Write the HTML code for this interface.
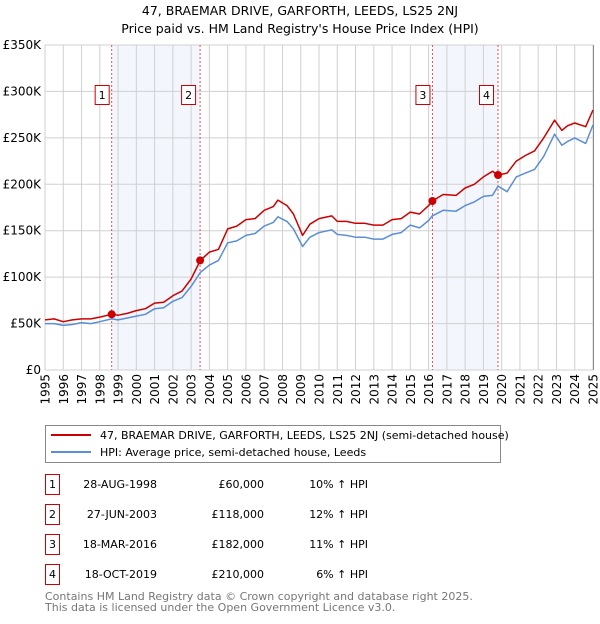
<!DOCTYPE html>
<html><head><meta charset="utf-8"><style>
body{margin:0;background:#fff;font-family:"DejaVu Sans","Liberation Sans",sans-serif;}
</style></head><body>
<svg width="600" height="620" xmlns="http://www.w3.org/2000/svg" font-family="DejaVu Sans, Liberation Sans, sans-serif">
<text x="300" y="15" text-anchor="middle" font-size="12.5">47, BRAEMAR DRIVE, GARFORTH, LEEDS, LS25 2NJ</text>
<text x="300" y="33" text-anchor="middle" font-size="12.5">Price paid vs. HM Land Registry's House Price Index (HPI)</text>
<g id="plot"></g>
<g>
<rect x="45.5" y="425.5" width="455" height="37" fill="#fff" stroke="#888"/>
<line x1="51" y1="435" x2="91" y2="435" stroke="#cc0000" stroke-width="2"/>
<text x="100" y="439" font-size="11">47, BRAEMAR DRIVE, GARFORTH, LEEDS, LS25 2NJ (semi-detached house)</text>
<line x1="51" y1="452" x2="91" y2="452" stroke="#5b8ed6" stroke-width="2"/>
<text x="100" y="456" font-size="11">HPI: Average price, semi-detached house, Leeds</text>
</g>
<g id="table"></g>
<text x="45" y="600" font-size="11" fill="#777">Contains HM Land Registry data © Crown copyright and database right 2025.</text>
<text x="45" y="611" font-size="11" fill="#777">This data is licensed under the Open Government Licence v3.0.</text>
</svg>
<script>
const years=[1995,1995.5,1996,1996.5,1997,1997.5,1998,1998.65,1999,1999.5,2000,2000.5,2001,2001.5,2002,2002.5,2003,2003.5,2004,2004.5,2005,2005.5,2006,2006.5,2007,2007.5,2007.75,2008.25,2008.6,2009.1,2009.5,2010,2010.7,2011,2011.5,2012,2012.5,2013,2013.5,2014,2014.5,2015,2015.5,2016,2016.2,2016.8,2017.5,2018,2018.5,2019,2019.5,2019.8,2020.3,2020.8,2021.3,2021.8,2022.3,2022.9,2023.3,2023.6,2024,2024.6,2025];
const hpi=[50,50,48,49,51,50,52,55,54,56,58,60,66,67,74,78,90,105,113,118,137,139,145,147,155,159,165,160,152,133,143,148,151,146,145,143,143,141,141,146,148,156,153,161,166,172,171,177,181,187,188,198,192,208,212,216,230,254,242,246,250,244,264];
const price=[54,55,52,54,55,55,57,60,59,61,64,66,72,73,80,85,98,118,127,130,152,155,162,163,172,176,183,177,168,145,157,163,166,160,160,158,158,156,156,162,163,170,168,177,182,189,188,196,200,208,214,210,212,225,231,236,250,269,258,263,266,262,280];
const saleYears=[1998.65,2003.49,2016.21,2019.8];
const salePrices=[60,118,182,210];
const saleLabels=["1","2","3","4"];
const saleDates=["28-AUG-1998","27-JUN-2003","18-MAR-2016","18-OCT-2019"];
const salePriceText=["£60,000","£118,000","£182,000","£210,000"];
const saleHpiText=["10% ↑ HPI","12% ↑ HPI","11% ↑ HPI","6% ↑ HPI"];
const yTicks=[0,50,100,150,200,250,300,350];
const yTickLabels=["£0","£50K","£100K","£150K","£200K","£250K","£300K","£350K"];
const NS="http://www.w3.org/2000/svg";
const X0=45,X1=593,Y0=370,Y1=45;
const xs=y=>X0+(y-1995)/30*(X1-X0);
const ys=v=>Y0-v/350*(Y0-Y1);
const plot=document.getElementById('plot');
function mk(tag,attrs,parent){const e=document.createElementNS(NS,tag);for(const k in attrs)e.setAttribute(k,attrs[k]);(parent||plot).appendChild(e);return e;}
[[0,1],[2,3]].forEach(p=>{const r=mk('rect',{x:xs(saleYears[p[0]]),y:Y1,width:xs(saleYears[p[1]])-xs(saleYears[p[0]]),height:Y0-Y1,fill:'#f3f6fd'});

});
for(let yr=1995;yr<=2025;yr++){const l=mk('line',{x1:xs(yr),x2:xs(yr),y1:Y1,y2:Y0,stroke:'#d0d0d0','stroke-width':1});


const t=mk('text',{x:0,y:0,'font-size':12,'text-anchor':'end',transform:`translate(${xs(yr)+4.5},${Y0+4}) rotate(-90)`});t.textContent=yr;

}
yTicks.forEach((v,i)=>{const l=mk('line',{x1:X0,x2:X1,y1:ys(v),y2:ys(v),stroke:'#d0d0d0','stroke-width':1});


const t=mk('text',{x:41,y:ys(v)+4,'font-size':12,'text-anchor':'end'});t.textContent=yTickLabels[i];

});
mk('line',{x1:X1+0.5,x2:X1+0.5,y1:Y1,y2:Y0,stroke:'#888'});
saleYears.forEach((sy,i)=>{const l=mk('line',{x1:xs(sy),x2:xs(sy),y1:Y1,y2:Y0,stroke:'#e05050','stroke-dasharray':'2,2','stroke-width':1});


const bx=xs(sy)-(i%2?12:10);
const g=mk('g',{});


mk('rect',{x:bx-6.5,y:85.5,width:14,height:19,fill:'#fff',stroke:'#cc0000'},g);
const t=mk('text',{x:bx+0.5,y:99,'font-size':11,'text-anchor':'middle'},g);t.textContent=saleLabels[i];});
function path(vals,color,name){let d='';years.forEach((y,i)=>{d+=(i?'L':'M')+xs(y).toFixed(1)+','+ys(vals[i]).toFixed(1);});
const p=mk('path',{d:d,fill:'none',stroke:color,'stroke-width':1.5,'stroke-linejoin':'round'});

}
path(hpi,'#5b8ed6','hpi-line');
path(price,'#cc0000','price-line');
saleYears.forEach((sy,i)=>{const c=mk('circle',{cx:xs(sy),cy:ys(salePrices[i]),r:4,fill:'#cc0000'});

});
const tb=document.getElementById('table');
saleLabels.forEach((lb,i)=>{const y=483+i*30;
const g=mk('g',{},tb);


mk('rect',{x:45.5,y:y-8.5,width:14,height:20,fill:'#fff',stroke:'#cc0000'},g);
let t=mk('text',{x:52.5,y:y+5,'font-size':11,'text-anchor':'middle'},g);t.textContent=lb;
t=mk('text',{x:157,y:y+5,'font-size':11,'text-anchor':'end'},g);t.textContent=saleDates[i];
t=mk('text',{x:264,y:y+5,'font-size':11,'text-anchor':'end'},g);t.textContent=salePriceText[i];
t=mk('text',{x:368,y:y+5,'font-size':11,'text-anchor':'end'},g);t.textContent=saleHpiText[i];});
</script>
</body></html>
